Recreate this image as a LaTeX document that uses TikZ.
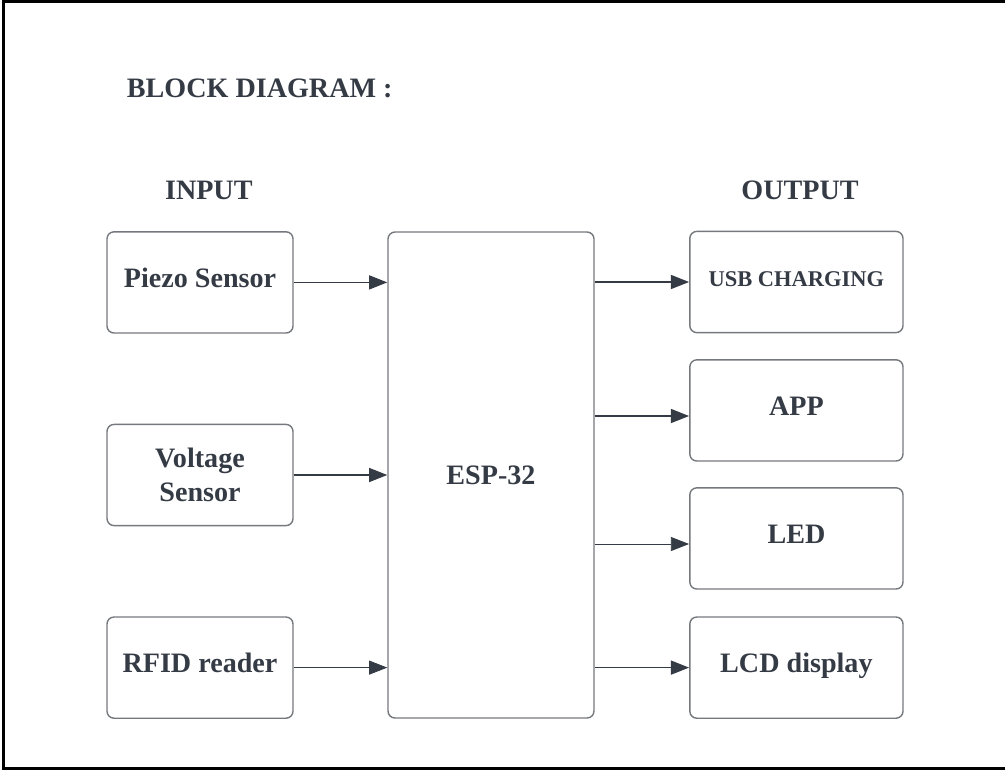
\documentclass[tikz,border=0pt]{standalone}
\usepackage{fontspec}
\setmainfont{Liberation Serif}
\usetikzlibrary{arrows.meta,positioning,calc}
\definecolor{boxgray}{HTML}{75787D}
\definecolor{inkgray}{HTML}{353B45}

\begin{document}
\begin{tikzpicture}[>={Triangle[length=13pt,width=10pt]},
    every node/.style={font=\bfseries\fontsize{20}{24}\selectfont, text=inkgray},
    block/.style={draw=boxgray, line width=1pt, rounded corners=5pt, minimum width=4.65cm, minimum height=2.53cm, align=center},
    oneline/.style={text height=14pt, text depth=6.5pt},
    link/.style={->, draw=inkgray, line width=1.1pt},
    thinlink/.style={link, line width=0.6pt}]
    \useasboundingbox (0,0) rectangle (25.125,-19.275);
    % frame
    \draw[line width=2pt] (25.125,-0.03) -- (0.08,-0.03) -- (0.08,-19.22) -- (25.125,-19.22);

    % headings
    \node[anchor=west] (title) at (3.05,-2.2) {BLOCK DIAGRAM :};
    \node (inhead) at (5.22,-4.75) {INPUT};
    \node (outhead) at (20.0,-4.75) {OUTPUT};

    % input blocks
    \node[block, oneline] (piezo) at (5.0,-7.06) {Piezo Sensor};
    \node[block] (volt) at (5.0,-11.875) {Voltage\\Sensor};
    \node[block, oneline] (rfid) at (5.0,-16.69) {RFID reader};

    % controller
    \node[block, minimum width=5.15cm, minimum height=12.15cm] (esp) at (12.275,-11.875) {ESP-32};

    % output blocks
    \node[block, minimum width=5.33cm, font=\bfseries\fontsize{16}{19}\selectfont, text height=12pt, text depth=5.4pt] (usb) at (19.91,-7.05) {USB CHARGING};
    \node[block, oneline, minimum width=5.33cm] (app) at (19.91,-10.26) {APP};
    \node[block, oneline, minimum width=5.33cm] (led) at (19.91,-13.46) {LED};
    \node[block, oneline, minimum width=5.33cm] (lcd) at (19.91,-16.69) {LCD display};

    % arrows into the controller
    \draw[link] (piezo.east) -- (piezo.east -| esp.west);
    \draw[link] (volt.east) -- (volt.east -| esp.west);
    \draw[thinlink] (rfid.east) -- (rfid.east -| esp.west);

    % arrows out of the controller
    \draw[link] (esp.east |- usb.west) -- (usb.west);
    \draw[link] ([yshift=-0.14cm]esp.east |- app.west) -- ([yshift=-0.14cm]app.west);
    \draw[thinlink] ([yshift=-0.14cm]esp.east |- led.west) -- ([yshift=-0.14cm]led.west);
    \draw[link] (esp.east |- lcd.west) -- (lcd.west);
\end{tikzpicture}
\end{document}
